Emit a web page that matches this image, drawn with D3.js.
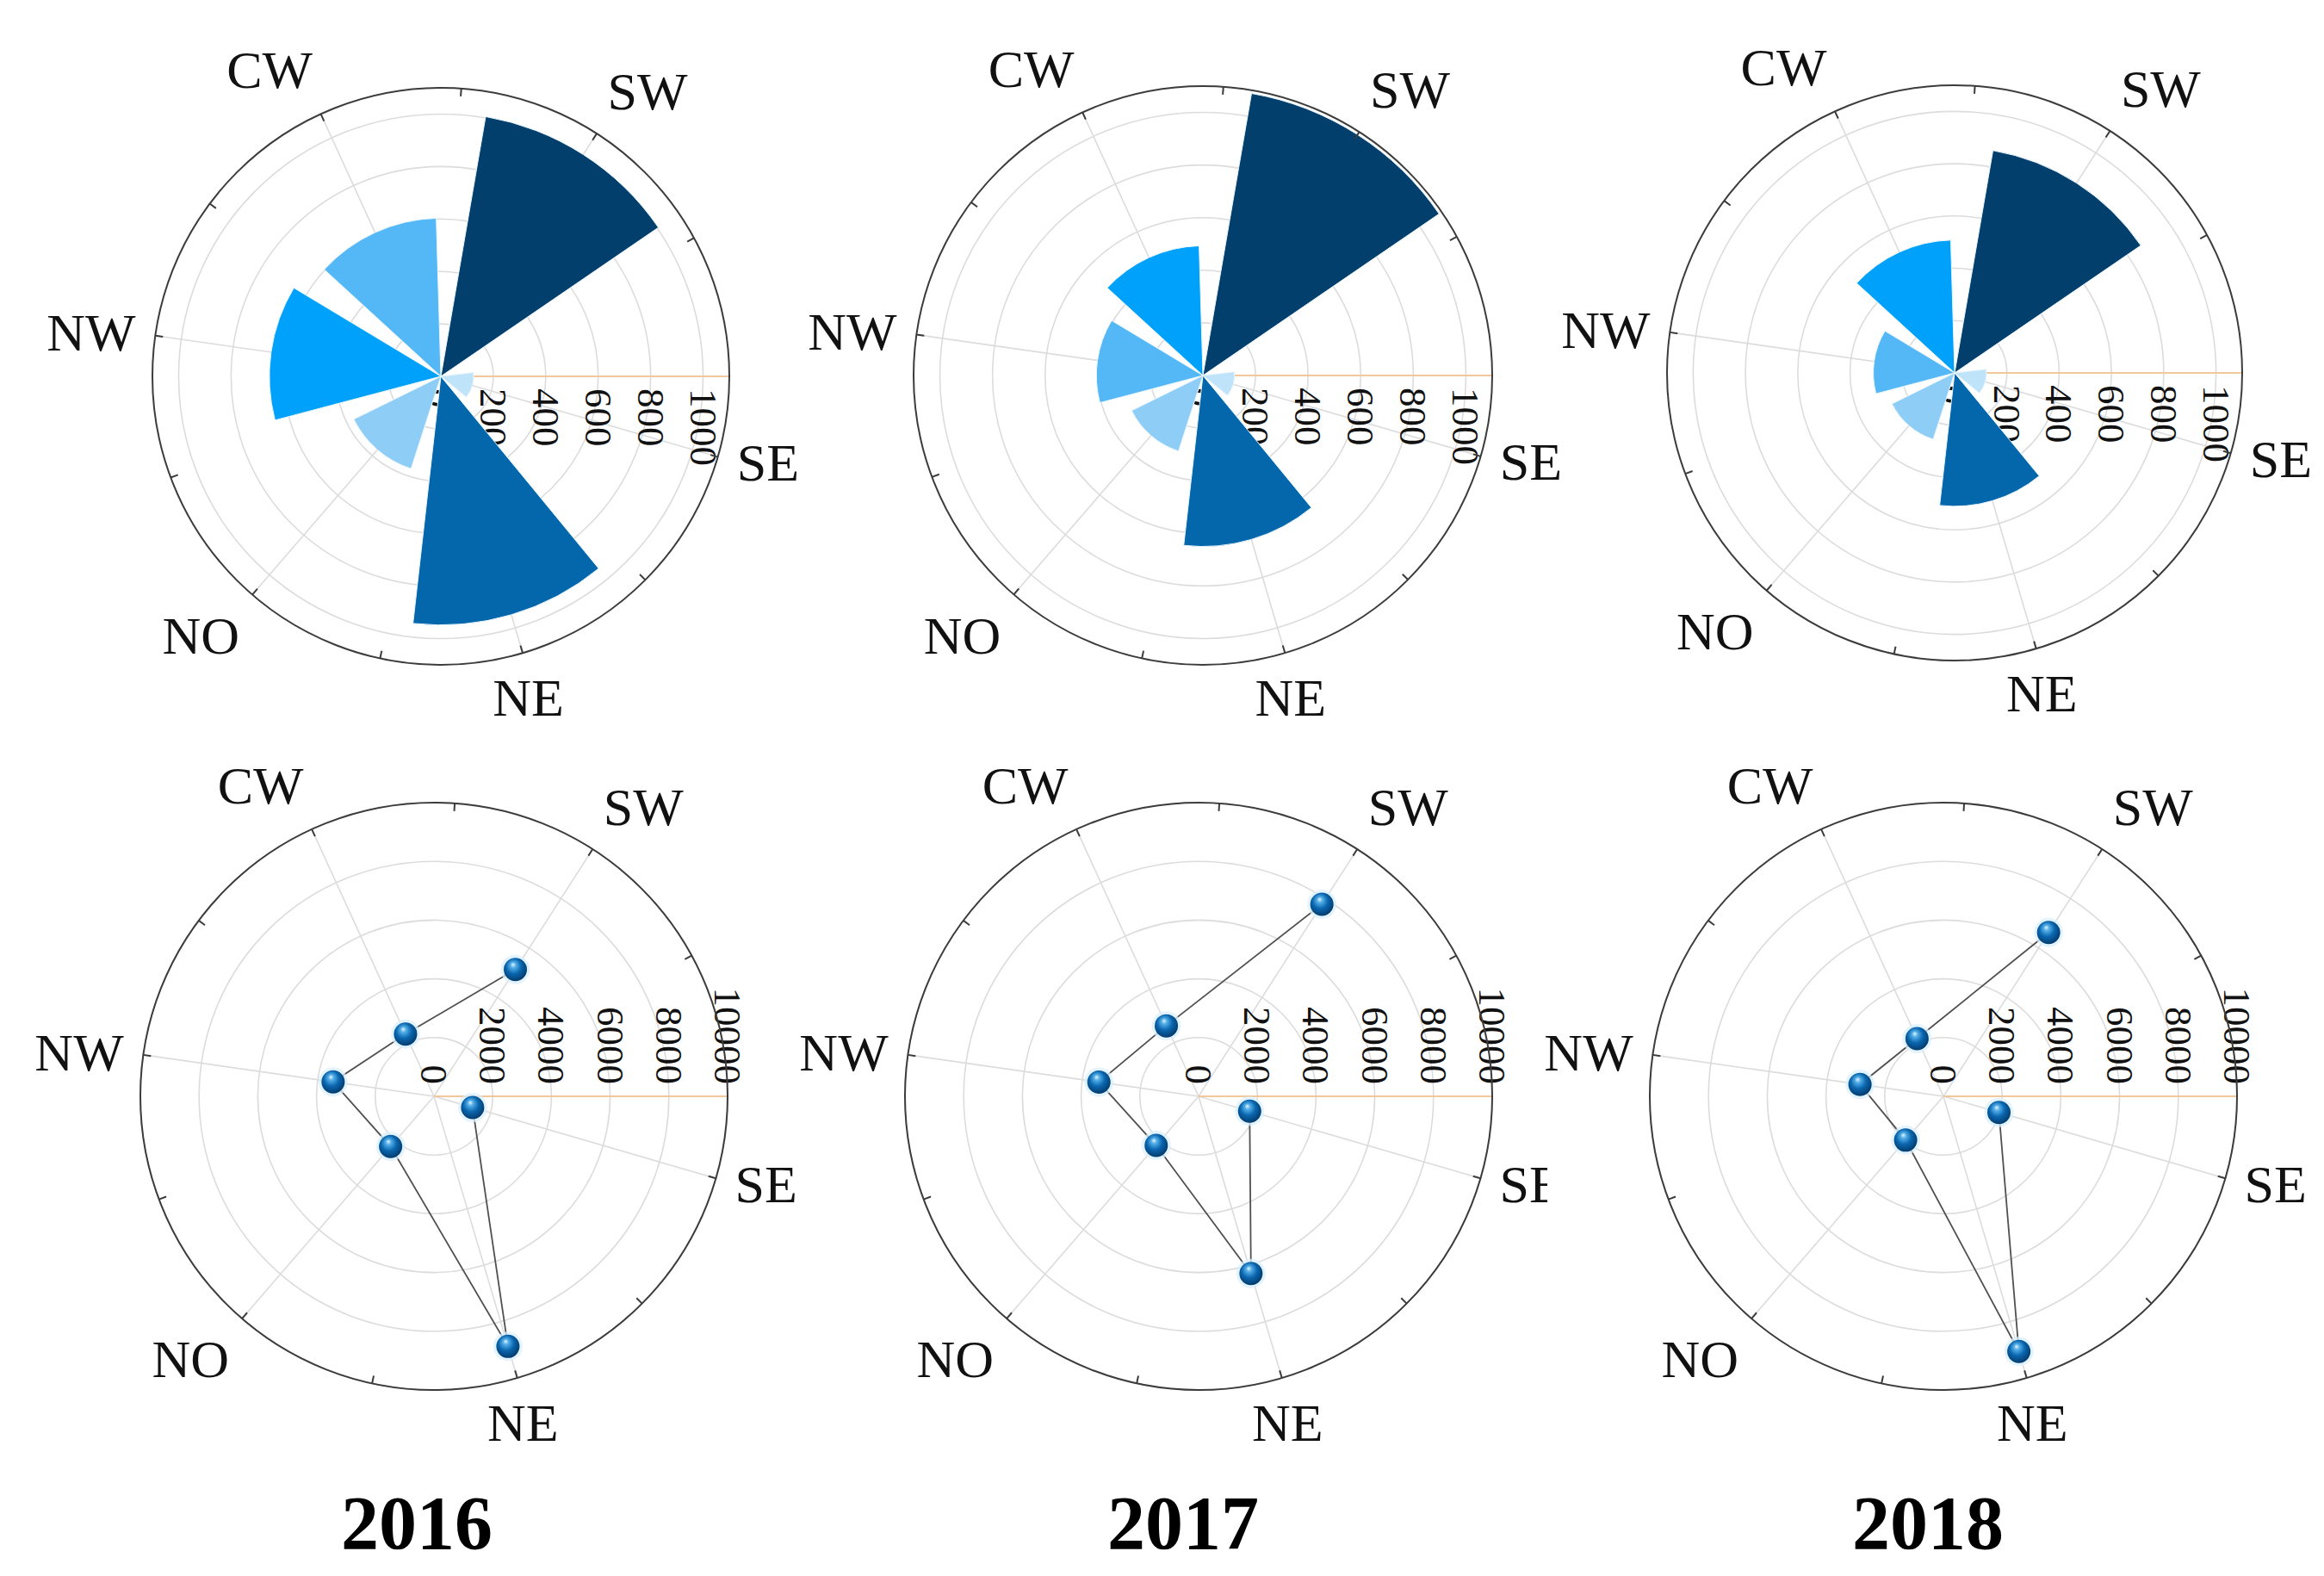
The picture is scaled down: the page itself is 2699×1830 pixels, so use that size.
<!DOCTYPE html>
<html><head><meta charset="utf-8">
<script src="https://cdn.jsdelivr.net/npm/d3@7"></script>
<style>html,body{margin:0;padding:0;background:#fff;}</style>
</head><body>
<script>
// ---------- data ----------
const directions = ["SW", "CW", "NW", "NO", "NE", "SE"];
const thetaRad = [1, 2, 3, 4, 5, 6];
const years = ["2016", "2017", "2018"];
const barValues2016 = [1005, 603, 654, 370, 948, 125];
const barValues2017 = [1088, 493, 405, 302, 650, 120];
const barValues2018 = [863, 508, 311, 267, 510, 122];
const lineValues2016 = [5130, 2330, 3470, 2260, 8880, 1370];
const lineValues2017 = [7770, 2640, 3430, 2210, 6290, 1810];
const lineValues2018 = [6630, 2160, 2870, 1970, 9060, 1970];
const barTicks = [0, 200, 400, 600, 800, 1000];
const lineTicks = [0, 2000, 4000, 6000, 8000, 10000];
const barRMax = 1100;
const lineRMax = 10000;

// ---------- style / layout ----------
const W = 2699, H = 1830;
const rankColors = ["#033f6c", "#0567ab", "#00a1fa", "#55b8f6", "#8ecdf6", "#bfe3f9"];
const barWidth = 0.8; // radians
const topPanels = [{cx: 512, cy: 437, R: 335}, {cx: 1397, cy: 436, R: 336}, {cx: 2270, cy: 433, R: 334}];
const botPanels = [{cx: 504, cy: 1273, R: 341}, {cx: 1392, cy: 1273, R: 341}, {cx: 2257, cy: 1273, R: 341}];
const yearX = [484, 1374, 2239];
const serif = "'Liberation Serif','Times New Roman',Times,serif";

const svg = d3.select("body").append("svg")
  .attr("width", W).attr("height", H)
  .attr("viewBox", `0 0 ${W} ${H}`)
  .style("display", "block");

const defs = svg.append("defs");
const grad = defs.append("radialGradient").attr("id", "ball")
  .attr("cx", "45%").attr("cy", "42%").attr("r", "60%")
  .attr("fx", "40%").attr("fy", "28%");
[["0%", "#e6f6ff"], ["20%", "#53aee8"], ["55%", "#0a66ae"], ["100%", "#03396a"]]
  .forEach(([o, c]) => grad.append("stop").attr("offset", o).attr("stop-color", c));
defs.append("clipPath").attr("id", "clipMid")
  .append("rect").attr("x", 0).attr("y", 0).attr("width", 1797).attr("height", H);

const toD3 = t => Math.PI / 2 - t;

function drawFrame(g, p, rScale, ticks, labelsBelow) {
  const R = p.R;
  // grid circles
  g.append("g").selectAll("circle").data(ticks.filter(t => t > 0)).join("circle")
    .attr("r", d => rScale(d)).attr("fill", "none")
    .attr("stroke", "#dcdcdc").attr("stroke-width", 1.6);
  // spokes
  g.append("g").selectAll("line").data(thetaRad).join("line")
    .attr("x1", 0).attr("y1", 0)
    .attr("x2", d => R * Math.cos(d)).attr("y2", d => -R * Math.sin(d))
    .attr("stroke", "#dcdcdc").attr("stroke-width", 1.6);
  // r-axis line
  g.append("line").attr("x1", 0).attr("y1", 0).attr("x2", R).attr("y2", 0)
    .attr("stroke", "#f2c79c").attr("stroke-width", 2.2);
  // r tick labels
  g.append("g").selectAll("text").data(ticks).join("text")
    .attr("transform", d => `translate(${rScale(d)},${labelsBelow ? 14 : -14}) rotate(90)`)
    .attr("text-anchor", labelsBelow ? "start" : "end")
    .attr("dominant-baseline", "central")
    .attr("font-family", serif).attr("font-size", 45).attr("fill", "#111")
    .text(d => d);
}

function drawOuter(g, p) {
  const R = p.R;
  g.append("circle").attr("r", R).attr("fill", "none")
    .attr("stroke", "#3c3c3c").attr("stroke-width", 2);
  const tks = d3.range(1, 13).map(i => i * 0.5);
  g.append("g").selectAll("line").data(tks).join("line")
    .attr("x1", d => R * Math.cos(d)).attr("y1", d => -R * Math.sin(d))
    .attr("x2", d => (R - 9) * Math.cos(d)).attr("y2", d => -(R - 9) * Math.sin(d))
    .attr("stroke", "#3c3c3c").attr("stroke-width", 2);
  // theta labels
  const gap = R + 23, capH = 42, padY = 9;
  g.append("g").selectAll("text").data(thetaRad).join("text")
    .attr("x", d => gap * Math.cos(d))
    .attr("y", d => {
      const s = Math.sin(d), y = -gap * s;
      if (s > 0.35) return y - padY;
      if (s < -0.35) return y + capH + padY;
      return y + capH / 2;
    })
    .attr("text-anchor", d => {
      const c = Math.cos(d);
      return c > 0.35 ? "start" : (c < -0.35 ? "end" : "middle");
    })
    .attr("font-family", serif).attr("font-size", 62).attr("fill", "#111")
    .text((d, i) => directions[i]);
}

// ---------- top row: polar bars ----------
const barSets = [barValues2016, barValues2017, barValues2018];
barSets.forEach((vals, k) => {
  const p = topPanels[k];
  const g = svg.append("g").attr("transform", `translate(${p.cx},${p.cy})`);
  const r = d3.scaleLinear().domain([0, barRMax]).range([0, p.R]);
  drawFrame(g, p, r, barTicks, true);
  const order = d3.range(vals.length).sort((a, b) => vals[b] - vals[a]);
  const rank = new Array(vals.length);
  order.forEach((idx, rk) => rank[idx] = rk);
  const color = d3.scaleOrdinal().domain(d3.range(6)).range(rankColors);
  const arc = d3.arc()
    .innerRadius(0)
    .outerRadius(d => r(d.v))
    .startAngle(d => toD3(d.t + barWidth / 2))
    .endAngle(d => toD3(d.t - barWidth / 2));
  g.append("g").selectAll("path")
    .data(vals.map((v, i) => ({v, t: thetaRad[i], rank: rank[i]})))
    .join("path")
    .attr("d", arc)
    .attr("fill", d => color(d.rank))
    .attr("stroke", "#eaf6ff").attr("stroke-width", 1);
  drawOuter(g, p);
});

// ---------- bottom row: polar lines ----------
const lineSets = [lineValues2016, lineValues2017, lineValues2018];
lineSets.forEach((vals, k) => {
  const p = botPanels[k];
  const outer = svg.append("g");
  if (k === 1) outer.attr("clip-path", "url(#clipMid)");
  const g = outer.append("g").attr("transform", `translate(${p.cx},${p.cy})`);
  const r = d3.scaleLinear().domain([0, lineRMax]).range([0, p.R]);
  drawFrame(g, p, r, lineTicks, false);
  const pts = vals.map((v, i) => ({v, t: thetaRad[i]}));
  const line = d3.lineRadial().angle(d => toD3(d.t)).radius(d => r(d.v));
  g.append("path").attr("d", line(pts)).attr("fill", "none")
    .attr("stroke", "#505050").attr("stroke-width", 1.8);
  drawOuter(g, p);
  const m = g.append("g").selectAll("g").data(pts).join("g")
    .attr("transform", d => `translate(${r(d.v) * Math.cos(d.t)},${-r(d.v) * Math.sin(d.t)})`);
  m.append("circle").attr("r", 17).attr("fill", "#d9f0ff").attr("opacity", 0.75);
  m.append("circle").attr("r", 13.5).attr("fill", "url(#ball)");
});

// ---------- year labels ----------
svg.append("g").selectAll("text").data(years).join("text")
  .attr("x", (d, i) => yearX[i]).attr("y", 1798)
  .attr("text-anchor", "middle")
  .attr("font-family", serif).attr("font-weight", "bold")
  .attr("font-size", 88).attr("fill", "#000")
  .text(d => d);
</script>
</body></html>
